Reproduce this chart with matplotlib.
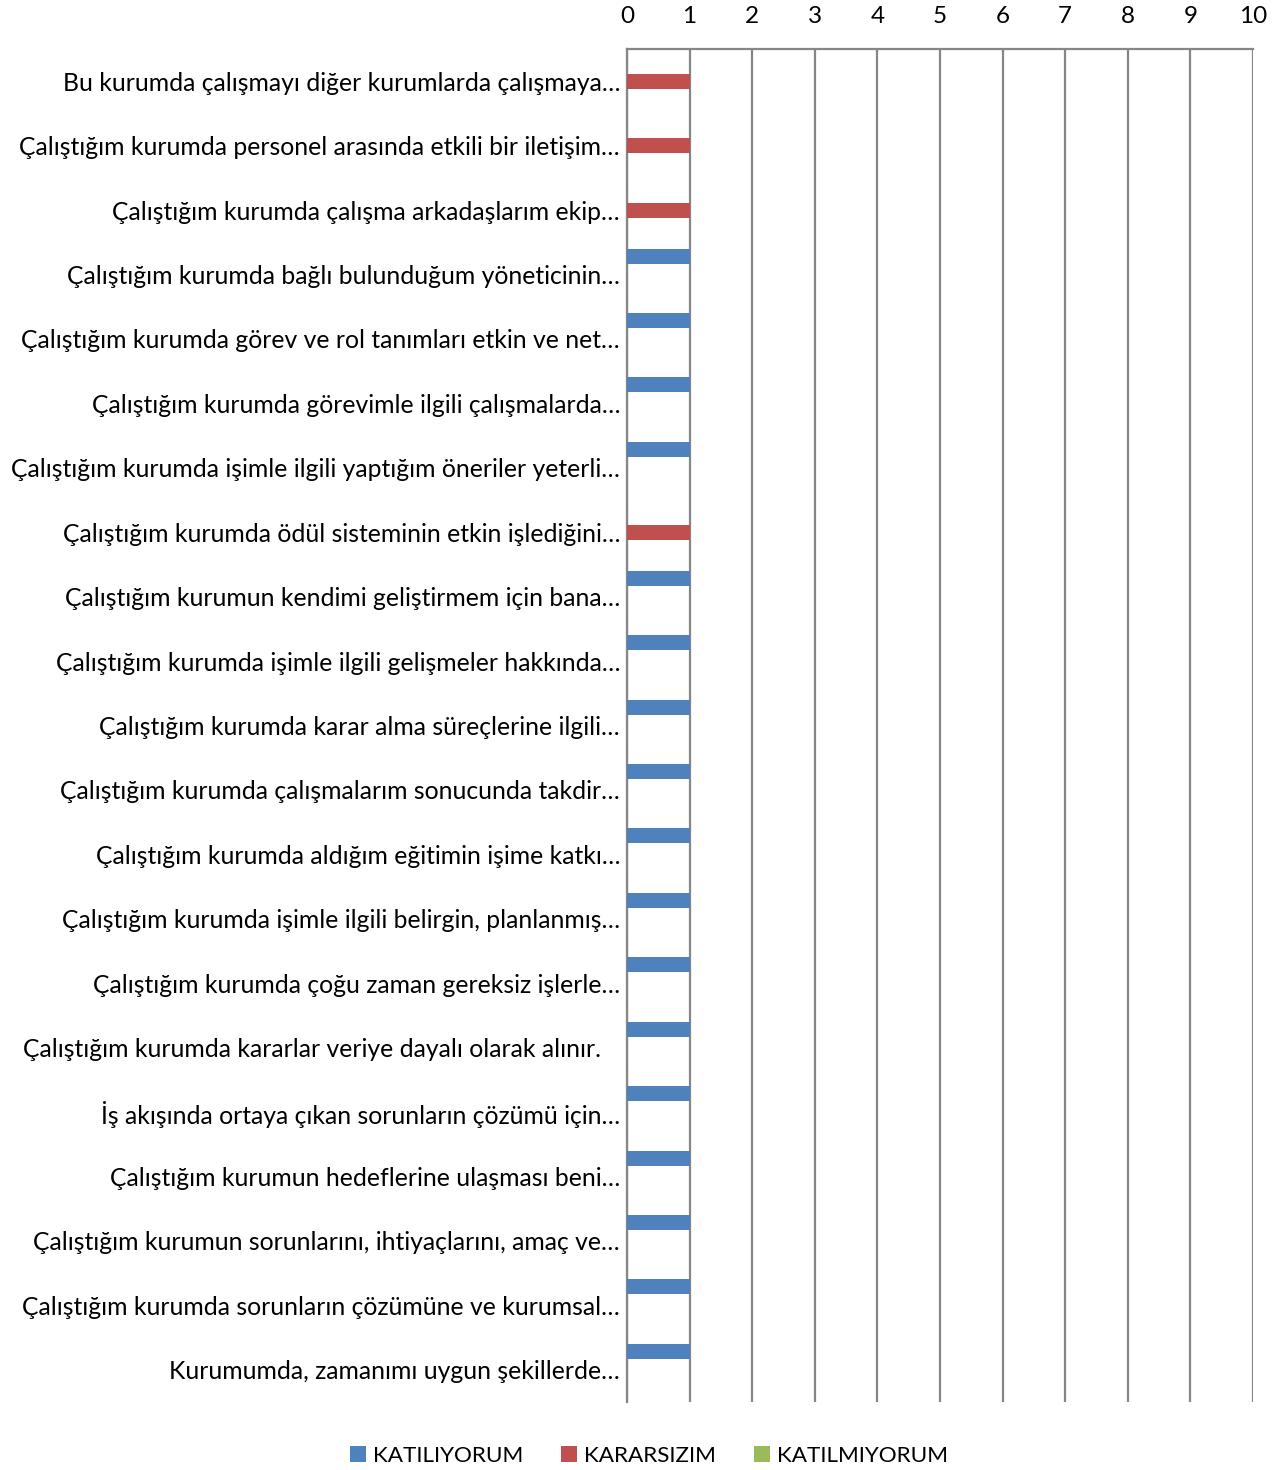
import matplotlib

matplotlib.use("Agg")
import matplotlib.pyplot as plt
import numpy as np

categories = [
    "Bu kurumda çalışmayı diğer kurumlarda çalışmaya…",
    "Çalıştığım kurumda personel arasında etkili bir iletişim…",
    "Çalıştığım kurumda çalışma arkadaşlarım ekip…",
    "Çalıştığım kurumda bağlı bulunduğum yöneticinin…",
    "Çalıştığım kurumda görev ve rol tanımları etkin ve net…",
    "Çalıştığım kurumda görevimle ilgili çalışmalarda…",
    "Çalıştığım kurumda işimle ilgili yaptığım öneriler yeterli…",
    "Çalıştığım kurumda ödül sisteminin etkin işlediğini…",
    "Çalıştığım kurumun kendimi geliştirmem için bana…",
    "Çalıştığım kurumda işimle ilgili gelişmeler hakkında…",
    "Çalıştığım kurumda karar alma süreçlerine ilgili…",
    "Çalıştığım kurumda çalışmalarım sonucunda takdir…",
    "Çalıştığım kurumda aldığım eğitimin işime katkı…",
    "Çalıştığım kurumda işimle ilgili belirgin, planlanmış…",
    "Çalıştığım kurumda çoğu zaman gereksiz işlerle…",
    "Çalıştığım kurumda kararlar veriye dayalı olarak alınır.   ",
    "İş akışında ortaya çıkan sorunların çözümü için…",
    "Çalıştığım kurumun hedeflerine ulaşması beni…",
    "Çalıştığım kurumun sorunlarını, ihtiyaçlarını, amaç ve…",
    "Çalıştığım kurumda sorunların çözümüne ve kurumsal…",
    "Kurumumda, zamanımı uygun şekillerde…",
]

series_names = ["KATILIYORUM", "KARARSIZIM", "KATILMIYORUM"]
katiliyorum = [0, 0, 0, 1, 1, 1, 1, 0, 1, 1, 1, 1, 1, 1, 1, 1, 1, 1, 1, 1, 1]
kararsizim = [1, 1, 1, 0, 0, 0, 0, 1, 0, 0, 0, 0, 0, 0, 0, 0, 0, 0, 0, 0, 0]
katilmiyorum = [0] * 21

colors = ["#4F81BD", "#C0504D", "#9BBB59"]

plt.rcParams["font.family"] = ["Lato", "DejaVu Sans"]

fig = plt.figure(figsize=(12.88, 14.7), dpi=100)
ax = fig.add_axes([627 / 1288, 1 - 1402 / 1470, 626 / 1288, 1353 / 1470])

y = np.arange(len(categories))
h = 0.233
off = 0.287
for i, (name, vals, c) in enumerate(zip(series_names, [katiliyorum, kararsizim, katilmiyorum], colors)):
    ax.barh(y + (i - 1) * off, vals, height=h, color=c, label=name, zorder=3)

ax.set_xlim(0, 10)
ax.set_ylim(len(categories) - 0.5, -0.5)
ax.set_xticks(range(11))
ax.xaxis.tick_top()
ax.tick_params(axis="x", length=0, pad=16, labelsize=17.5)
ax.set_yticks(y, categories)
ax.tick_params(axis="y", length=0, pad=5, labelsize=17.8)
ax.grid(axis="x", color="#868686", linewidth=1.6, zorder=0)
for s in ["right", "bottom"]:
    ax.spines[s].set_visible(False)
for s in ["top", "left"]:
    ax.spines[s].set_color("#868686")
    ax.spines[s].set_linewidth(1.6)

fig.legend(
    loc="center",
    bbox_to_anchor=(649 / 1288, 1 - 1456 / 1470),
    ncol=3,
    frameon=False,
    fontsize=16.2,
    handlelength=0.7,
    handleheight=0.7,
    handletextpad=0.3,
    columnspacing=1.7,
)

fig.savefig("out.png", dpi=100)
